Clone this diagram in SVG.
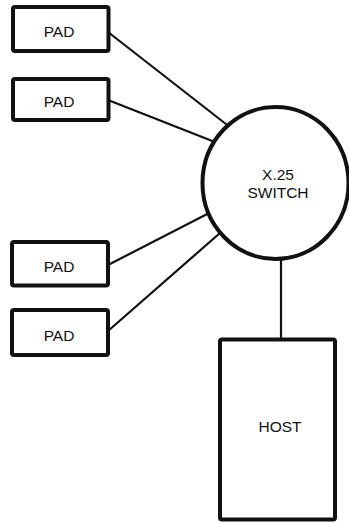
<svg xmlns="http://www.w3.org/2000/svg" width="349" height="523" viewBox="0 0 349 523">
<style>
.box{fill:#fff;stroke:#111;stroke-width:4;}
.ln{stroke:#111;stroke-width:2.2;fill:none;}
.t{font-family:"Liberation Sans",Arial,sans-serif;font-size:15.5px;fill:#111;text-anchor:middle;}
</style>
<rect width="349" height="523" fill="#fff"/>
<g id="connectors">
<line class="ln" x1="108" y1="32" x2="240" y2="135"/>
<line class="ln" x1="108" y1="100" x2="225" y2="146"/>
<line class="ln" x1="108" y1="265" x2="215" y2="210"/>
<line class="ln" x1="108" y1="331" x2="228" y2="226"/>
<line class="ln" x1="281" y1="250" x2="281" y2="340"/>
</g>
<g id="pad1"><rect class="box" x="13" y="7" width="95.5" height="44" rx="2"/><text class="t" x="59" y="37.3">PAD</text></g>
<g id="pad2"><rect class="box" x="13" y="79" width="95.5" height="41" rx="2"/><text class="t" x="59" y="106.7">PAD</text></g>
<g id="pad3"><rect class="box" x="12" y="242" width="96" height="43.5" rx="2"/><text class="t" x="59" y="271.7">PAD</text></g>
<g id="pad4"><rect class="box" x="12" y="310" width="96" height="45" rx="2"/><text class="t" x="59" y="340.7">PAD</text></g>
<g id="switch"><ellipse class="box" cx="275.5" cy="183" rx="73" ry="76"/><text class="t" x="278" y="180">X.25</text><text class="t" x="278" y="198.3">SWITCH</text></g>
<g id="host"><rect class="box" x="220" y="339.5" width="115" height="180" rx="2"/><text class="t" x="280" y="432.3">HOST</text></g>
</svg>
